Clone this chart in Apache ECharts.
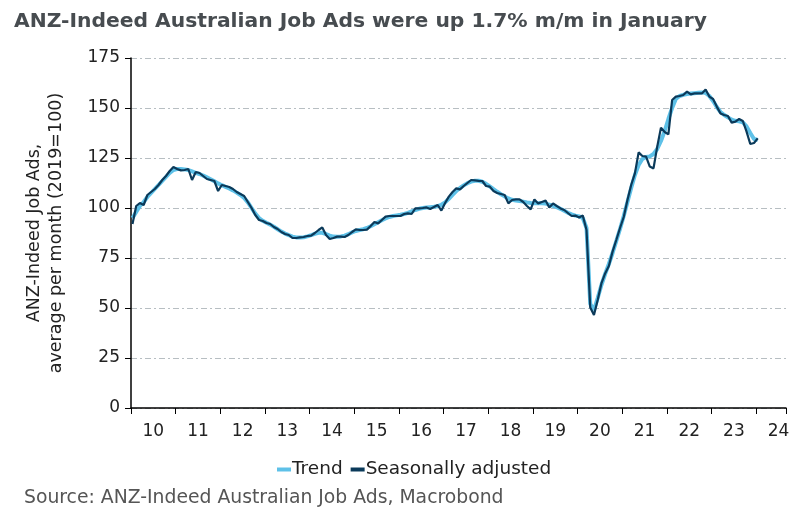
<!DOCTYPE html>
<html style="height: 100%; width:100%">
<head>
    <meta charset="utf-8">
    <script src="https://cdn.jsdelivr.net/npm/echarts@6/dist/echarts.min.js"></script>
</head>
<body style="height: 100%; width: 100%; margin: 0; background:#fff">
<div id="container" style="width:802px;height:514px"></div>
<script type="text/javascript">
// months since Jan 2010, one value per month up to Jan 2024
var yearLabels = ["10","11","12","13","14","15","16","17","18","19","20","21","22","23","24"];

var seasAdj = [
    92, 101, 102.5, 101.5, 106.5, 108, 109.5, 111.5, 114, 116, 118.5, 120.5,
    119.5, 118.8, 119, 119.5, 114, 118, 117.5, 116, 114.5, 114, 113.5, 108.5,
    111.5, 111, 110.5, 109.5, 108, 107, 106, 103, 100, 96.5, 94, 93.5,
    92.5, 92, 90.5, 89.5, 88, 87, 86.5, 85, 85, 85.3, 85.5, 86,
    86.2, 87.5, 89, 90.3, 86.5, 84.5, 85, 85.7, 85.7, 85.5, 86.5, 88,
    89.3, 89, 89, 89.2, 91, 93, 92.3, 94, 95.7, 96, 96, 96,
    96, 97, 97.3, 97, 99.8, 99.8, 100, 100.3, 99.5, 100.5, 101.5, 98.7,
    102.5, 105.7, 108, 109.8, 109.3, 111, 112.5, 114, 113.8, 113.6, 113.5, 111,
    110.7, 108.5, 107.5, 107, 106.5, 102.3, 104, 104.3, 104.3, 103, 101, 99.3,
    104.3, 102.3, 103, 103.7, 100.2, 102.3, 101, 99.8, 99, 97.5, 96, 96.2,
    95.3, 96.2, 89, 50.2, 46.5, 54, 62.3, 67.3, 71, 78.2, 84, 90,
    95.5, 104, 111.5, 117.3, 127.8, 126, 125.7, 120.7, 119.8, 130.7, 140.2, 138,
    136.8, 154, 155.7, 156, 156.5, 158.2, 156.8, 157.3, 157.3, 157.3, 159.3, 155.7,
    154.5, 150.7, 147.3, 146.5, 146, 142.7, 143.2, 144.5, 143.5, 138.2, 132, 132.5,
    134.8
];

var trend = [
    95, 98, 101, 103, 105.5, 107.5, 109.5, 111.5, 113.5, 115.5, 117.5, 119,
    119.5, 119.5, 119.3, 119, 118.3, 117.6, 117, 116.2, 115.3, 114.4, 113.4, 112.3,
    111.4, 110.6, 109.8, 108.8, 107.7, 106.5, 105, 102.8, 100, 97.2, 95, 93.6,
    92.6, 91.7, 90.6, 89.4, 88.2, 87.2, 86.4, 85.7, 85.3, 85.2, 85.4, 85.8,
    86.4, 87.1, 87.6, 87.6, 87, 86.2, 85.7, 85.6, 85.8, 86.2, 86.9, 87.8,
    88.5, 89, 89.4, 90, 90.9, 91.9, 92.9, 93.9, 94.8, 95.5, 96, 96.3,
    96.6, 97, 97.6, 98.3, 99, 99.6, 100, 100.2, 100.4, 100.6, 100.9, 101.6,
    102.8, 104.6, 106.6, 108.5, 110, 111.3, 112.4, 113.2, 113.6, 113.6, 113.1, 112.1,
    110.8, 109.4, 108.1, 106.9, 105.8, 104.8, 104.1, 103.7, 103.5, 103.2, 102.8, 102.5,
    102.4, 102.4, 102.4, 102.2, 101.7, 101.1, 100.4, 99.6, 98.6, 97.6, 96.8, 96.2,
    95.8, 95, 90, 52, 49, 55, 61.5, 67, 72, 77.5, 83.5, 89.5,
    96, 103, 110, 116.5, 121.5, 124.5, 125.5, 125.8, 127, 129.5, 133.5, 138.5,
    144.5, 150, 154.5, 156, 156.6, 157, 157.2, 157.4, 157.6, 157.8, 157.5, 156,
    153.5, 150.5, 148, 146.5, 145.3, 144.2, 143.6, 143.3, 142.8, 140.8, 137.5, 134.5,
    134
];

// points sit a little after the start of each month
function toPoints(arr) {
    var out = [];
    for (var i = 0; i < arr.length; i++) {
        out.push([i + 0.4, arr[i]]);
    }
    return out;
}

var dom = document.getElementById("container");
var myChart = echarts.init(dom);
var font = "DejaVu Sans";

var option = {
    animation: false,
    title: {
        text: "ANZ-Indeed Australian Job Ads were up 1.7% m/m in January",
        left: 9,
        top: 7,
        textStyle: { fontFamily: font, fontSize: 20.3, fontWeight: "bold", color: "#474c50" }
    },
    legend: {
        top: 455,
        left: 272,
        itemWidth: 14,
        itemHeight: 4,
        itemGap: 8,
        icon: "rect",
        textStyle: { fontFamily: font, fontSize: 18.5, color: "#222", padding: [0, 0, 0, -4] },
        data: ["Trend", "Seasonally adjusted"]
    },
    graphic: [{
        type: "text",
        left: 24,
        top: 489,
        style: {
            text: "Source: ANZ-Indeed Australian Job Ads, Macrobond",
            font: "18.8px DejaVu Sans",
            fill: "#555"
        }
    }],
    grid: { left: 131, right: 16, top: 58, bottom: 106 },
    xAxis: [{
        type: "value",
        min: 0,
        max: 176,
        interval: 12,
        axisLine: { lineStyle: { color: "#000", width: 1.5 } },
        axisTick: { show: true, length: 6, lineStyle: { color: "#000" } },
        axisLabel: { show: false },
        splitLine: { show: false }
    }, {
        type: "value",
        min: 0,
        max: 176,
        interval: 6,
        position: "bottom",
        axisLine: { show: false },
        axisTick: { show: false },
        splitLine: { show: false },
        axisLabel: {
            margin: 15,
            fontFamily: font,
            fontSize: 17,
            color: "#222",
            formatter: function (v) {
                if (v % 12 !== 6) return "";
                return yearLabels[(v - 6) / 12] || "";
            }
        }
    }],
    yAxis: {
        type: "value",
        min: 0,
        max: 175,
        interval: 25,
        name: "ANZ-Indeed Job Ads,\naverage per month (2019=100)",
        nameLocation: "middle",
        nameGap: 64,
        nameTextStyle: { fontFamily: font, fontSize: 17.5, color: "#222", lineHeight: 22 },
        axisLine: { show: true, lineStyle: { color: "#000", width: 1.5 } },
        axisTick: { show: true, length: 6, lineStyle: { color: "#000" } },
        axisLabel: { fontFamily: font, fontSize: 17, color: "#222", margin: 11 },
        splitLine: { lineStyle: { color: "#b7bec2", type: [6, 3, 2, 3], width: 1 } }
    },
    series: [{
        name: "Trend",
        type: "line",
        data: toPoints(trend),
        showSymbol: false,
        smooth: false,
        lineStyle: { color: "#5ec1e8", width: 4 },
        itemStyle: { color: "#5ec1e8" },
        z: 2
    }, {
        name: "Seasonally adjusted",
        type: "line",
        data: toPoints(seasAdj),
        showSymbol: false,
        smooth: false,
        lineStyle: { color: "#0b3a5a", width: 2.2 },
        itemStyle: { color: "#0b3a5a" },
        z: 3
    }]
};
myChart.setOption(option);
</script>
</body>
</html>
